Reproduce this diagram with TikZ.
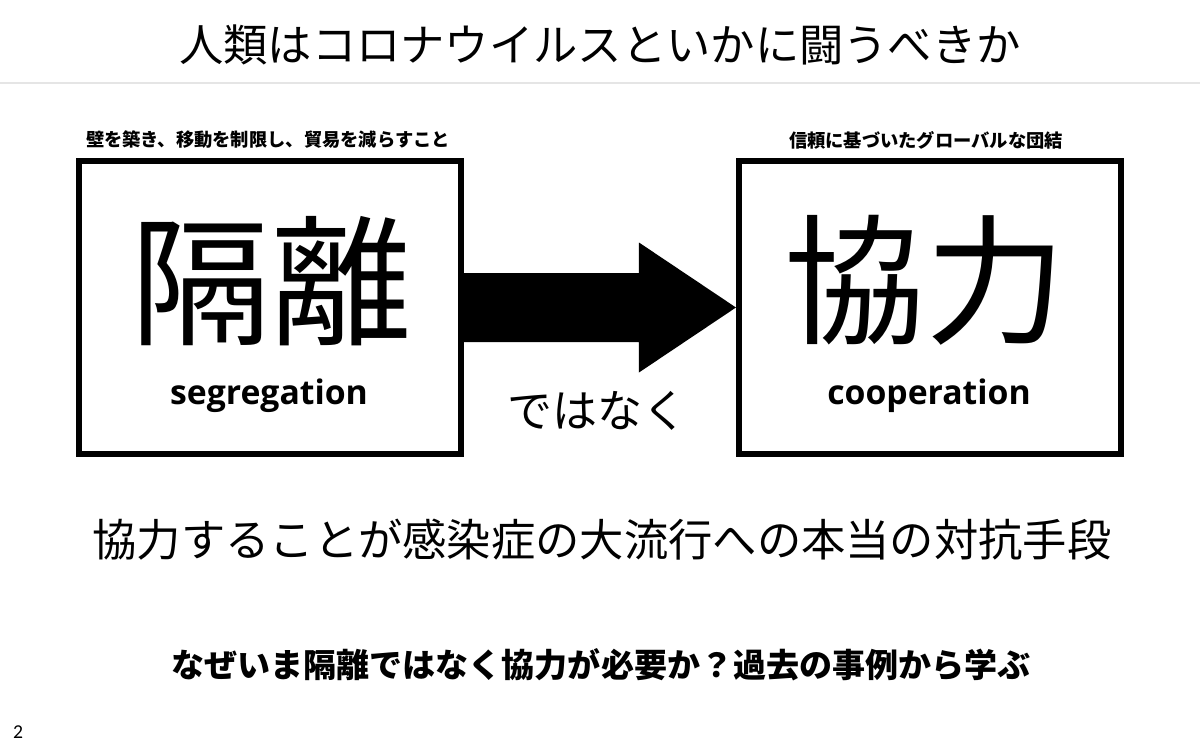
\documentclass[tikz,border=0pt]{standalone}
\usepackage{fontspec}
\setmainfont{Noto Sans CJK JP}
\newfontfamily\latinfont{Open Sans}
\newfontfamily\pagefont{Carlito}
\usetikzlibrary{calc}

\begin{document}
\begin{tikzpicture}[x=.025cm,y=-.025cm,
    box/.style={draw,line width=.15cm,minimum width=9.55cm,minimum height=7.3cm},
    bigchar/.style={font=\fontsize{100}{100}\selectfont,inner sep=0},
    word/.style={font=\latinfont\bfseries\fontsize{24}{24}\selectfont,anchor=base,inner sep=0},
    note/.style={font=\bfseries\fontsize{13}{13}\selectfont,inner sep=0},
    line/.style={font=\fontsize{31.5}{31.5}\selectfont,inner sep=0}]
  \useasboundingbox[fill=white] (0,0) rectangle (1200,750);
  \node[font=\fontsize{31.5}{31.5}\selectfont,inner sep=0] (title) at (600,45) {人類はコロナウイルスといかに闘うべきか};
  \draw[gray!20,line width=.04cm] (0,83) -- (1200,83);
  % the two boxes
  \node[box] (sep) at (270,307.5) {};
  \node[box] (coop) at (930,307.5) {};
  \node[note] (seplbl) at (268,140) {壁を築き、移動を制限し、貿易を減らすこと};
  \node[note] (cooplbl) at (926,140) {信頼に基づいたグローバルな団結};
  \node[bigchar] (sepkanji) at (271,281) {隔離};
  \node[bigchar] (coopkanji) at (925,280) {協力};
  \node[word] (sepword) at (269,404) {segregation};
  \node[word] (coopword) at (929,404) {cooperation};
  % block arrow
  \fill ($(sep.east)+(0,-34.5)$) -- ($(coop.west)+(-97,-34.5)$) -- ($(coop.west)+(-97,-65)$)
    -- (coop.west) -- ($(coop.west)+(-97,65)$) -- ($(coop.west)+(-97,34.5)$)
    -- ($(sep.east)+(0,34.5)$) -- cycle;
  \node[font=\fontsize{32}{32}\selectfont,inner sep=0] (not) at (597,411) {ではなく};
  \node[line] (claim) at (602,540) {協力することが感染症の大流行への本当の対抗手段};
  \node[font=\bfseries\fontsize{23.5}{23.5}\selectfont,inner sep=0] (why) at (601,665) {なぜいま隔離ではなく協力が必要か？過去の事例から学ぶ};
  \node[font=\pagefont\fontsize{14}{14}\selectfont,inner sep=0] (page) at (18,732) {2};
\end{tikzpicture}
\end{document}
